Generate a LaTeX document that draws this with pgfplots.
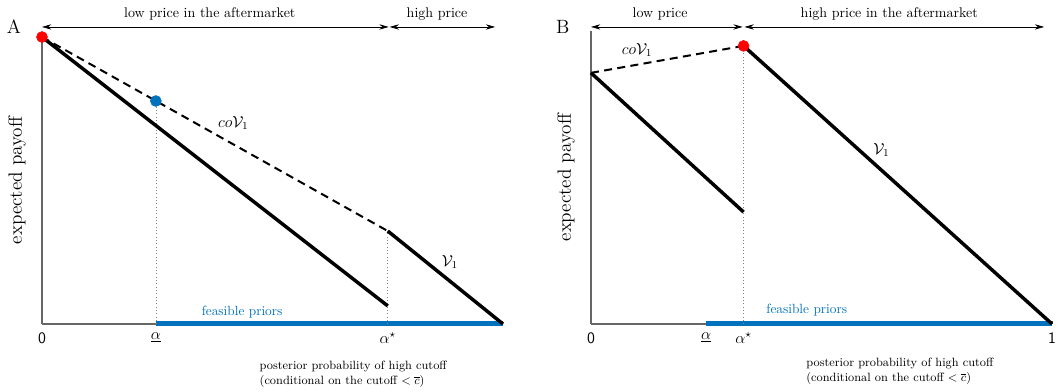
\documentclass[border=0pt]{standalone}
\usepackage{pgfplots}
\pgfplotsset{compat=1.18}
\usetikzlibrary{arrows.meta}
\definecolor{mblue}{RGB}{0,114,189}
\definecolor{mred}{RGB}{255,0,0}
\tikzset{dblarrow/.style={{Stealth[length=7pt,width=4pt]}-{Stealth[length=7pt,width=4pt]}, line width=0.5pt}}
\pgfplotsset{
  panel/.style={
    scale only axis, width=345.75pt, anchor=south west,
    xmin=0, xmax=1, ymin=0,
    axis x line*=bottom, axis y line*=left,
    axis line style={black!60, line width=0.8pt},
    ytick=\empty, major tick length=2pt, tick align=inside,
    tick style={black!70},
    clip=false,
    ylabel={\Large expected payoff},
    ylabel style={at={(axis description cs:-0.054,0.5)}, anchor=center},
    xticklabel style={font=\large, yshift=-3pt},
  }
}
\begin{document}
\begin{tikzpicture}
\path[use as bounding box] (-31.5pt,-51pt) rectangle (764.25pt,243pt);
% ---------------- Panel A
\begin{axis}[panel, at={(0pt,0pt)}, height=215.25pt, ymax=1,
  xtick={0,0.247,0.75}, xticklabels={\textsf{0},$\underline{\alpha}$,$\alpha^{\star}$}]
\addplot[mblue, line width=3.75pt] coordinates {(0.247,0) (1,0)};
\addplot[black!50, dotted, line width=0.5pt] coordinates {(0.247,0) (0.247,0.777)};
\addplot[black!50, dotted, line width=0.5pt] coordinates {(0.75,0) (0.75,0.324)};
\addplot[black, line width=1.5pt, dash pattern=on 6pt off 4pt] coordinates {(0,1) (0.75,0.324)};
\addplot[black, line width=2.6pt] coordinates {(0,1) (0.75,0.063)};
\addplot[black, line width=2.6pt] coordinates {(0.75,0.324) (1,0)};
\addplot[only marks, mark=*, mark size=4.1pt, mblue] coordinates {(0.247,0.777)};
\addplot[only marks, mark=*, mark size=4.1pt, mred] coordinates {(0,1)};
\draw[dblarrow] (axis cs:0,1.035) -- (axis cs:0.752,1.035);
\draw[dblarrow] (axis cs:0.754,1.035) -- (axis cs:0.983,1.035);
\node[font=\fontsize{10.5}{12}\selectfont] at (axis cs:0.364,1.08) {low price in the aftermarket};
\node[font=\fontsize{10.5}{12}\selectfont] at (axis cs:0.857,1.08) {high price};
\node at (axis cs:-0.061,1.035) {\Large A};
\node at (axis cs:0.415,0.70) {\large $co\mathcal{V}_1$};
\node at (axis cs:0.885,0.216) {\large $\mathcal{V}_1$};
\node[text=mblue] at (axis cs:0.434,0.042) {feasible priors};
\node[align=left, font=\small] at (axis cs:0.675,-0.174) {posterior probability of high cutoff\\(conditional on the cutoff $<\overline{c}$)};
\end{axis}
% ---------------- Panel B
\begin{axis}[panel, at={(411.75pt,0pt)}, height=219.56pt, ymax=1.02,
  xtick={0,0.25,0.331,1}, xticklabels={\textsf{0},$\underline{\alpha}$,$\alpha^{\star}$,\textsf{1}}]
\addplot[mblue, line width=3.75pt] coordinates {(0.25,0) (1,0)};
\addplot[black!50, dotted, line width=0.5pt] coordinates {(0.331,0) (0.331,0.969)};
\addplot[black, line width=1.5pt, dash pattern=on 6pt off 4pt] coordinates {(0,0.875) (0.331,0.969)};
\addplot[black, line width=2.6pt] coordinates {(0,0.875) (0.331,0.39)};
\addplot[black, line width=2.6pt] coordinates {(0.331,0.969) (1,0)};
\addplot[only marks, mark=*, mark size=4.1pt, mred] coordinates {(0.331,0.969)};
\draw[dblarrow] (axis cs:0,1.035) -- (axis cs:0.329,1.035);
\draw[dblarrow] (axis cs:0.333,1.035) -- (axis cs:0.983,1.035);
\node[font=\fontsize{10.5}{12}\selectfont] at (axis cs:0.15,1.08) {low price};
\node[font=\fontsize{10.5}{12}\selectfont] at (axis cs:0.647,1.08) {high price in the aftermarket};
\node at (axis cs:-0.061,1.035) {\Large B};
\node at (axis cs:0.1,0.955) {\large $co\mathcal{V}_1$};
\node at (axis cs:0.63,0.606) {\large $\mathcal{V}_1$};
\node[text=mblue] at (axis cs:0.468,0.049) {feasible priors};
\node[align=left, font=\small] at (axis cs:0.67,-0.164) {posterior probability of high cutoff\\(conditional on the cutoff $<\overline{c}$)};
\end{axis}
\end{tikzpicture}
\end{document}
